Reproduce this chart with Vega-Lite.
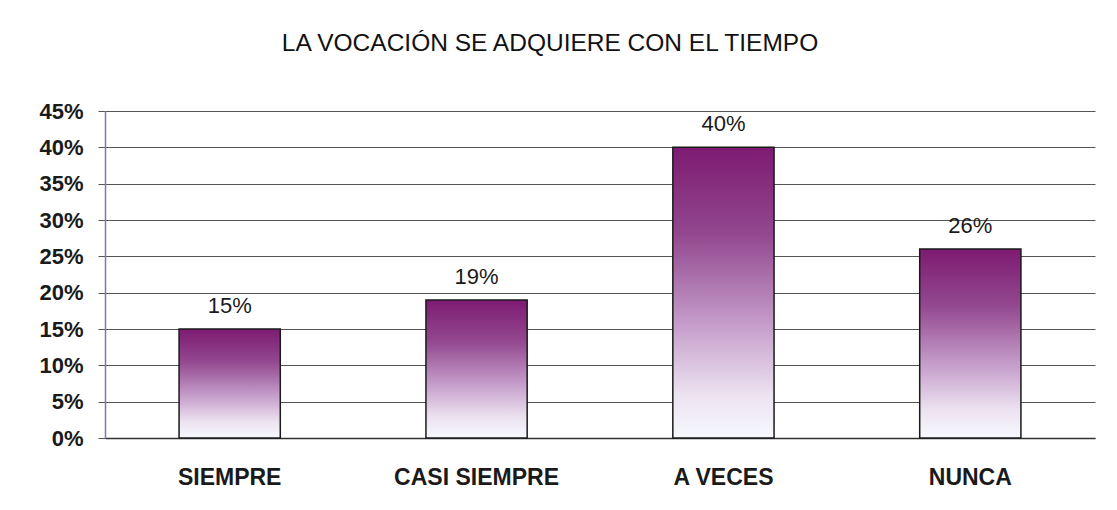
{
  "$schema": "https://vega.github.io/schema/vega-lite/v6.json",
  "width": 990,
  "height": 327,
  "autosize": "none",
  "padding": {"left": 105, "top": 111, "right": 22, "bottom": 72},
  "background": "white",
  "title": {
    "text": "LA VOCACIÓN SE ADQUIERE CON EL TIEMPO",
    "font": "Liberation Sans",
    "fontSize": 24.5,
    "fontWeight": "normal",
    "color": "#111111",
    "anchor": "middle",
    "dx": -50,
    "offset": 44
  },
  "data": {
    "values": [
      {"categoria": "SIEMPRE", "valor": 0.15},
      {"categoria": "CASI SIEMPRE", "valor": 0.19},
      {"categoria": "A VECES", "valor": 0.40},
      {"categoria": "NUNCA", "valor": 0.26}
    ]
  },
  "config": {
    "view": {"stroke": null},
    "font": "Liberation Sans"
  },
  "encoding": {
    "x": {
      "field": "categoria",
      "type": "nominal",
      "sort": null,
      "scale": {"paddingInner": 0.59, "paddingOuter": 0.3},
      "axis": {
        "title": null,
        "labelAngle": 0,
        "labelFont": "Liberation Sans",
        "labelFontSize": 23,
        "labelFontWeight": "bold",
        "labelColor": "#1a1a1a",
        "labelPadding": 28,
        "ticks": false,
        "domainColor": "#333333",
        "domainWidth": 1.5
      }
    },
    "y": {
      "field": "valor",
      "type": "quantitative",
      "scale": {"domain": [0, 0.45], "nice": false},
      "axis": {
        "title": null,
        "format": ".0%",
        "values": [0, 0.05, 0.1, 0.15, 0.2, 0.25, 0.3, 0.35, 0.4, 0.45],
        "labelFont": "Liberation Sans",
        "labelFontSize": 22,
        "labelFontWeight": "bold",
        "labelColor": "#1a1a1a",
        "labelPadding": 15,
        "tickSize": 7,
        "tickColor": "#555555",
        "domainColor": "#7a78b0",
        "domainWidth": 1.5,
        "grid": true,
        "gridColor": "#555555",
        "gridWidth": 1
      }
    }
  },
  "layer": [
    {
      "mark": {
        "type": "bar",
        "stroke": "#1a1a1a",
        "strokeWidth": 1.5,
        "color": {
          "gradient": "linear",
          "x1": 0, "y1": 0, "x2": 0, "y2": 1,
          "stops": [
            {"offset": 0, "color": "#7d1b72"},
            {"offset": 0.3, "color": "#93488f"},
            {"offset": 0.6, "color": "#c39ac8"},
            {"offset": 0.85, "color": "#ece2f0"},
            {"offset": 1, "color": "#f6f9fd"}
          ]
        }
      }
    },
    {
      "mark": {
        "type": "text",
        "baseline": "alphabetic",
        "dy": -16,
        "fontSize": 22,
        "font": "Liberation Sans",
        "color": "#1a1a1a"
      },
      "encoding": {
        "text": {"field": "valor", "type": "quantitative", "format": ".0%"}
      }
    }
  ]
}
